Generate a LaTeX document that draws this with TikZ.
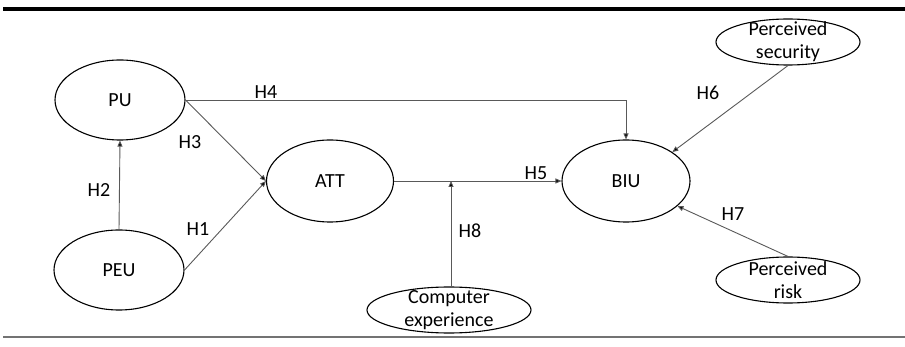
\documentclass[tikz,border=0pt]{standalone}
\usepackage{fontspec}
\setmainfont{Carlito}
\usetikzlibrary{arrows.meta,shapes.geometric}
\begin{document}
\begin{tikzpicture}[x=1pt,y=-1pt,
  every node/.style={font=\fontsize{20}{23}\selectfont},
  bigell/.style={ellipse,draw=black,line width=1.1pt,inner sep=0pt,minimum width=#1},
  smallell/.style={ellipse,draw=black,line width=1.1pt,inner sep=0pt,minimum width=144pt,minimum height=46pt},
  ellt/.style={inner sep=0pt,align=center},
  conn/.style={draw=black!65,line width=0.9pt,-{Triangle[length=6pt,width=5pt,fill=black]}},
  lab/.style={inner sep=0pt}]
\useasboundingbox (0,0) rectangle (905,347);
\draw[line width=4pt,black] (3,9.5) -- (905,9.5);
\draw[line width=1.3pt,black!55] (3,337) -- (905,337);
\node[bigell=130pt,minimum height=80pt] (PU) at (120,100) {PU};
\node[bigell=130pt,minimum height=80pt] (PEU) at (119,270) {PEU};
\node[bigell=127pt,minimum height=82pt] (ATT) at (330,181) {ATT};
\node[bigell=128pt,minimum height=82pt] (BIU) at (626,181) {BIU};
\node[smallell,minimum width=164pt] (CE) at (449,310) {};
\node[ellt] (CEt) at (CE.center) {Computer\\experience};
\node[smallell] (PS) at (788,42) {};
\node[ellt] (PSt) at (PS.center) {Perceived\\security};
\node[smallell] (PR) at (788,280) {};
\node[ellt] (PRt) at (PR.center) {Perceived\\risk};
\coordinate (mod) at (451,181);
\draw[conn] (PEU.north) -- (PU.south);
\draw[conn] (PU.east) -- (ATT.west);
\draw[conn] (PEU.east) -- (ATT.west);
\draw[conn] (PU.east) -| (BIU.north);
\draw[conn] (ATT.east) -- (BIU.west);
\draw[conn] (CE.north -| mod) -- (mod);
\draw[conn] (PS.south) -- (BIU.32);
\draw[conn] (PR.north) -- (BIU.-26);
\node[lab] (h2) at (99,190) {H2};
\node[lab] (h3) at (190,142) {H3};
\node[lab] (h1) at (198,229) {H1};
\node[lab] (h4) at (266,92) {H4};
\node[lab] (h5) at (536,173) {H5};
\node[lab] (h8) at (470,231) {H8};
\node[lab] (h6) at (708,93) {H6};
\node[lab] (h7) at (733,214) {H7};
\end{tikzpicture}
\end{document}
